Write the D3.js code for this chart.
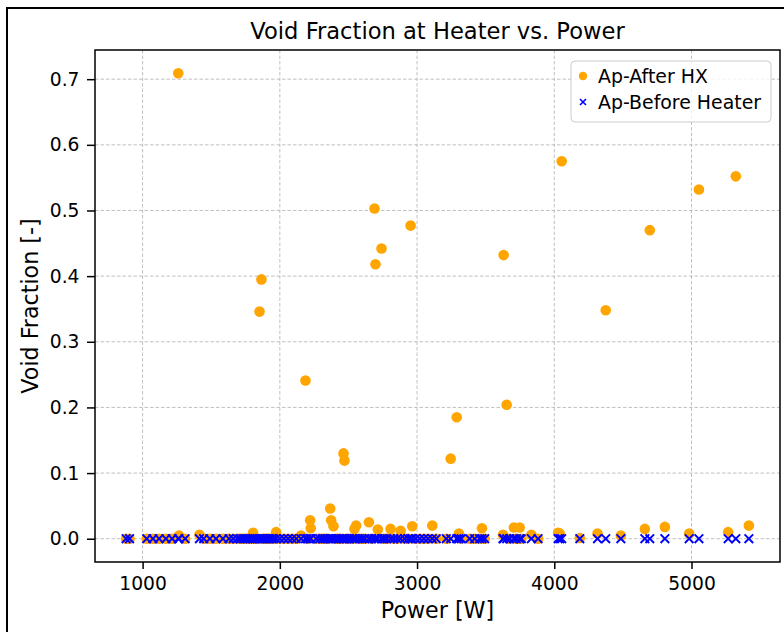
<!DOCTYPE html>
<html>
<head>
<meta charset="utf-8">
<script src="https://cdn.jsdelivr.net/npm/d3@7"></script>
<style>
  html, body { margin: 0; padding: 0; background: #fff; }
  svg { display: block; font-family: "DejaVu Sans", sans-serif; }
</style>
</head>
<body>
<div id="chart"></div>
<script>
// ---- Data ----
const power = [
  880, 905, 1030, 1075, 1120, 1170, 1215, 1260, 1265, 1310,
  1414, 1445, 1490, 1535, 1585, 1630, 1660, 1690, 1710, 1730,
  1750, 1765, 1780, 1795, 1805, 1820, 1835, 1852, 1866, 1880,
  1895, 1910, 1925, 1940, 1955, 1973, 2000, 2030, 2060, 2090,
  2120, 2155, 2187, 2200, 2221, 2225, 2265, 2290, 2310, 2330,
  2350, 2367, 2374, 2391, 2410, 2430, 2450, 2464, 2471, 2490,
  2510, 2530, 2544, 2556, 2580, 2600, 2620, 2649, 2670, 2690,
  2697, 2714, 2741, 2760, 2780, 2807, 2830, 2855, 2880, 2910,
  2935, 2953, 2965, 2990, 3020, 3050, 3080, 3111, 3140, 3213,
  3245, 3289, 3305, 3322, 3383, 3420, 3456, 3473, 3493, 3626,
  3631, 3653, 3675, 3706, 3724, 3748, 3760, 3833, 3882, 4028,
  4040, 4054, 4186, 4315, 4375, 4485, 4660, 4696, 4806, 4983,
  5054, 5267, 5323, 5418
];
const afterHX = [
  0, 0, 0, 0, 0, 0, 0, 0.709, 0.005, 0,
  0.006, 0, 0, 0, 0, 0, 0, 0, 0, 0,
  0, 0, 0, 0, 0.009, 0, 0, 0.346, 0.395, 0,
  0, 0, 0, 0, 0, 0.010, 0, 0, 0, 0,
  0, 0.005, 0.241, 0, 0.028, 0.016, 0, 0, 0, 0,
  0, 0.046, 0.028, 0.019, 0, 0, 0, 0.130, 0.119, 0,
  0, 0, 0.015, 0.020, 0, 0, 0, 0.025, 0, 0.503,
  0.418, 0.014, 0.442, 0, 0, 0.015, 0, 0, 0.012, 0,
  0, 0.477, 0.019, 0, 0, 0, 0, 0.020, 0, 0,
  0.122, 0.185, 0.008, 0, 0, 0, 0, 0.016, 0, 0.006,
  0.432, 0.204, 0, 0.017, 0, 0.017, 0, 0.006, 0, 0.009,
  0.008, 0.575, 0.001, 0.008, 0.348, 0.005, 0.015, 0.470, 0.018, 0.008,
  0.532, 0.010, 0.552, 0.020
];
const beforeHeater = power.map(() => 0);
const xTicks = [1000, 2000, 3000, 4000, 5000];
const yTicks = [0.0, 0.1, 0.2, 0.3, 0.4, 0.5, 0.6, 0.7];
const seriesNames = ["Ap-After HX", "Ap-Before Heater"];
const seriesColors = ["#FFA500", "#0000FF"];

// ---- Layout ----
const W = 784, H = 632;
const m = { left: 95, right: 780, top: 50, bottom: 562 };

const svg = d3.select("#chart").append("svg")
  .attr("width", W).attr("height", H);

// outer frame
svg.append("rect").attr("x", 7).attr("y", 8).attr("width", 820).attr("height", 700)
  .attr("fill", "none").attr("stroke", "#000").attr("stroke-width", 2);

// scales with matplotlib-like 5% margins
const xmin = d3.min(power), xmax = d3.max(power);
const xr = xmax - xmin;
const x = d3.scaleLinear().domain([xmin - 0.05 * xr, xmax + 0.05 * xr]).range([m.left, m.right]);
const ymaxAll = d3.max(afterHX), yminAll = 0;
const yr = ymaxAll - yminAll;
const y = d3.scaleLinear().domain([yminAll - 0.05 * yr, ymaxAll + 0.05 * yr]).range([m.bottom, m.top]);

// grid
const grid = svg.append("g");
grid.selectAll(".gx").data(xTicks).join("line")
  .attr("x1", d => x(d)).attr("x2", d => x(d))
  .attr("y1", m.top).attr("y2", m.bottom)
  .attr("stroke", "#b0b0b0").attr("stroke-width", 0.8).attr("stroke-dasharray", "3.5,2");
grid.selectAll(".gy").data(yTicks).join("line")
  .attr("x1", m.left).attr("x2", m.right)
  .attr("y1", d => y(d)).attr("y2", d => y(d))
  .attr("stroke", "#b0b0b0").attr("stroke-width", 0.8).attr("stroke-dasharray", "3.5,2");

// points
const plot = svg.append("g");
plot.selectAll("circle").data(power.map((p, i) => [p, afterHX[i]])).join("circle")
  .attr("cx", d => x(d[0])).attr("cy", d => y(d[1])).attr("r", 5.3)
  .attr("fill", seriesColors[0]);
const xs = 4.3;
plot.selectAll("path.xm").data(power.map((p, i) => [p, beforeHeater[i]])).join("path")
  .attr("class", "xm")
  .attr("d", d => {
    const cx = x(d[0]), cy = y(d[1]);
    return `M${cx - xs},${cy - xs}L${cx + xs},${cy + xs}M${cx - xs},${cy + xs}L${cx + xs},${cy - xs}`;
  })
  .attr("stroke", seriesColors[1]).attr("stroke-width", 1.9).attr("fill", "none");

// axes
const xAxis = d3.axisBottom(x).tickValues(xTicks).tickFormat(d3.format("d")).tickSizeInner(7).tickSizeOuter(0).tickPadding(7.5);
const yAxis = d3.axisLeft(y).tickValues(yTicks).tickFormat(d3.format(".1f")).tickSizeInner(8).tickSizeOuter(0).tickPadding(7.5);
const gx = svg.append("g").attr("transform", `translate(0,${m.bottom})`).call(xAxis);
const gy = svg.append("g").attr("transform", `translate(${m.left},0)`).call(yAxis);
[gx, gy].forEach(g => {
  g.selectAll("text").attr("font-family", "DejaVu Sans").attr("font-size", 18.7).attr("fill", "#000");
  g.selectAll("line").attr("stroke", "#000").attr("stroke-width", 1.5);
  g.select(".domain").remove();
});

// spines
svg.append("rect").attr("x", m.left).attr("y", m.top)
  .attr("width", m.right - m.left).attr("height", m.bottom - m.top)
  .attr("fill", "none").attr("stroke", "#000").attr("stroke-width", 1.5);

// title & labels
svg.append("text").attr("x", (m.left + m.right) / 2).attr("y", 39)
  .attr("text-anchor", "middle").attr("font-size", 22.6).attr("fill", "#000")
  .text("Void Fraction at Heater vs. Power");
svg.append("text").attr("x", (m.left + m.right) / 2).attr("y", 618)
  .attr("text-anchor", "middle").attr("font-size", 22.2).attr("fill", "#000")
  .text("Power [W]");
svg.append("text")
  .attr("transform", `translate(38,${(m.top + m.bottom) / 2}) rotate(-90)`)
  .attr("text-anchor", "middle").attr("font-size", 22.2).attr("fill", "#000")
  .text("Void Fraction [-]");

// legend
const lg = svg.append("g");
lg.append("rect").attr("x", 571).attr("y", 61).attr("width", 200).attr("height", 61)
  .attr("rx", 4).attr("fill", "#fff").attr("fill-opacity", 0.8)
  .attr("stroke", "#cccccc").attr("stroke-width", 1);
lg.append("circle").attr("cx", 583).attr("cy", 76).attr("r", 4.2).attr("fill", seriesColors[0]);
lg.append("path").attr("d", `M${583 - 3},${102 - 3}L${583 + 3},${102 + 3}M${583 - 3},${102 + 3}L${583 + 3},${102 - 3}`)
  .attr("stroke", seriesColors[1]).attr("stroke-width", 1.6);
lg.selectAll("text.lt").data(seriesNames).join("text")
  .attr("class", "lt")
  .attr("x", 598).attr("y", (d, i) => 82.5 + i * 26)
  .attr("font-size", 18.9).attr("fill", "#000")
  .text(d => d);
</script>
</body>
</html>
